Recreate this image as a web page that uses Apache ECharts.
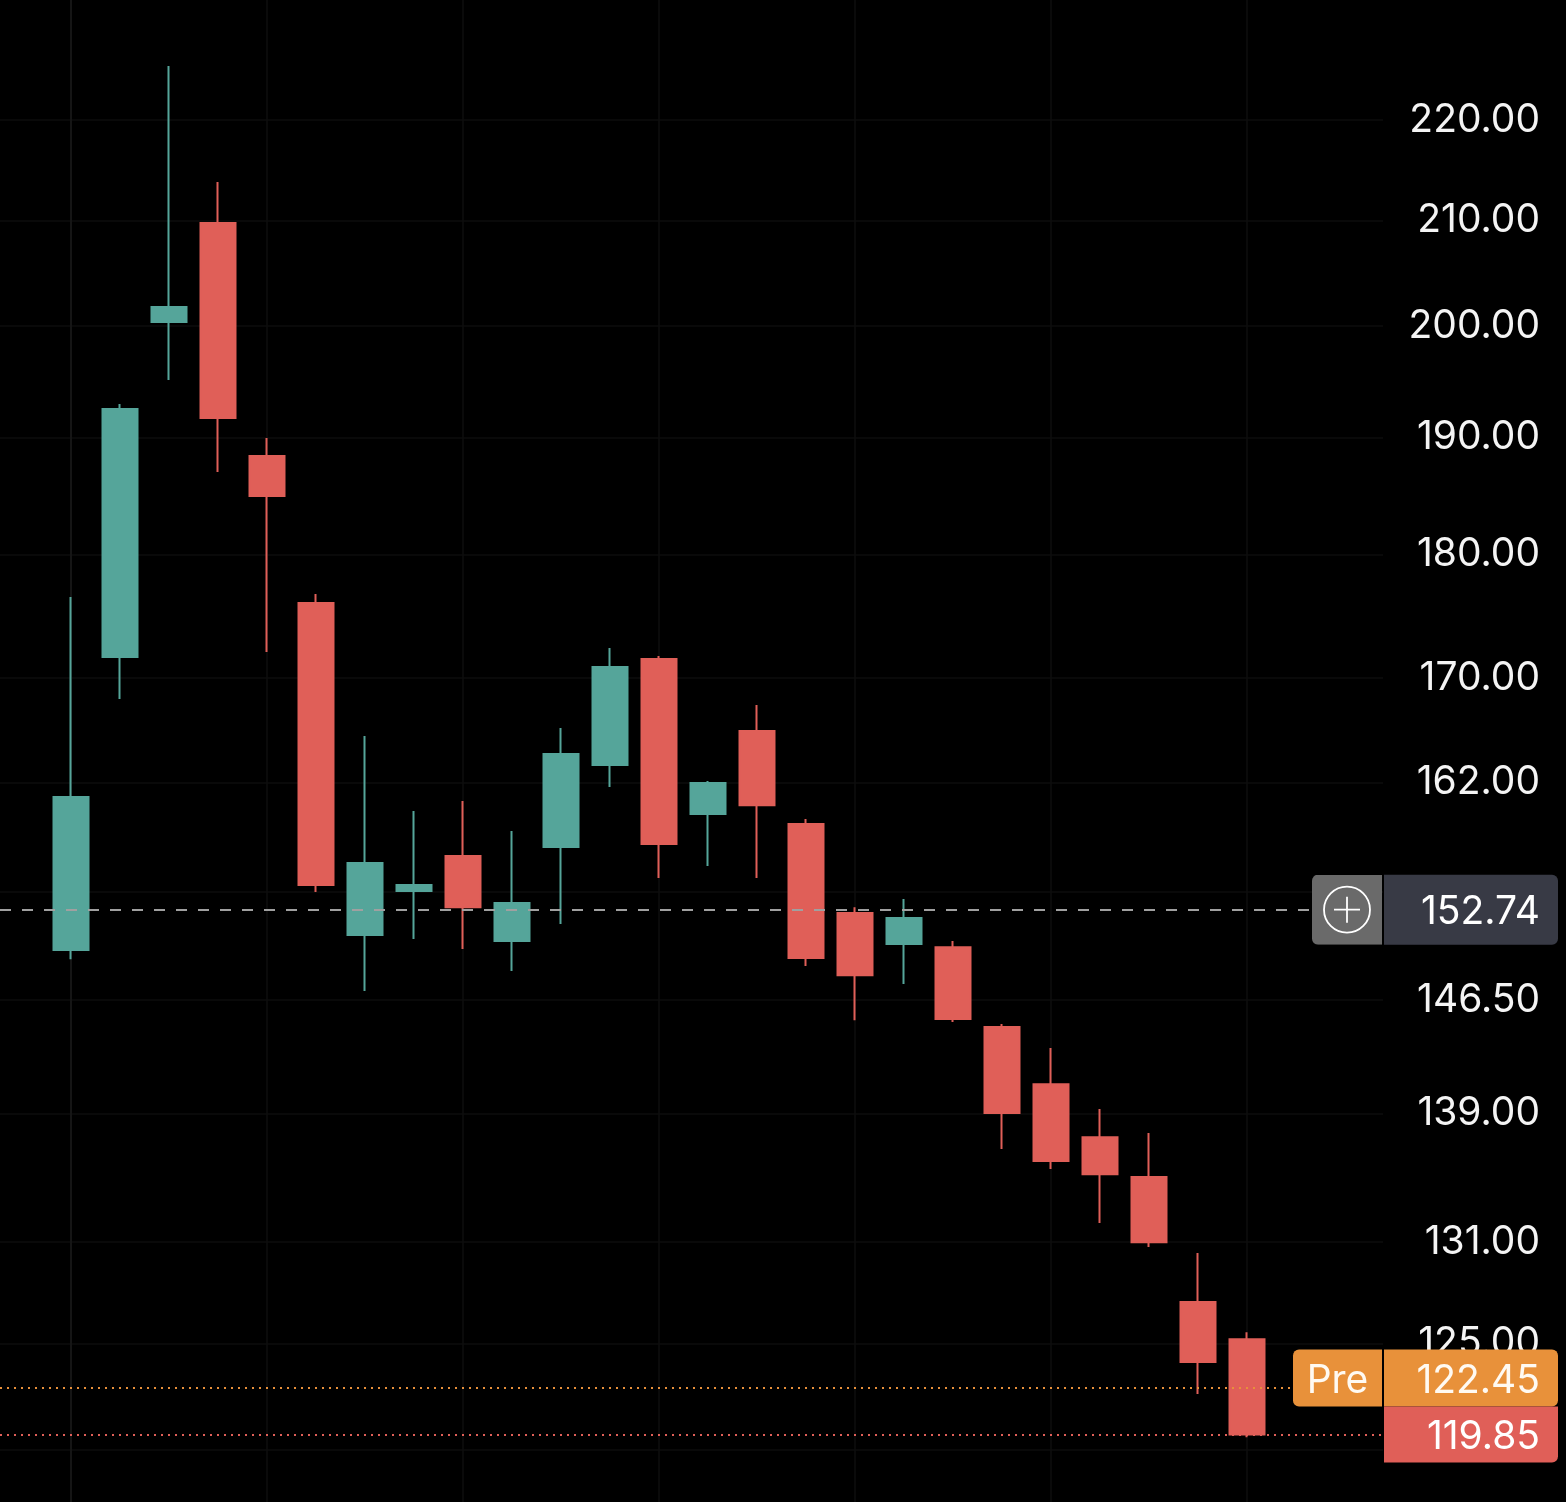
<!DOCTYPE html>
<html>
<head>
<meta charset="utf-8">
<script src="https://cdn.jsdelivr.net/npm/echarts@6/dist/echarts.min.js"></script>
<style>
html,body{margin:0;padding:0;background:#000;}
#chart{width:1566px;height:1502px;}
</style>
</head>
<body>
<div id="chart"></div>
<script>
// ---- data ----
const candleIndex = [0,1,2,3,4,5,6,7,8,9,10,11,12,13,14,15,16,17,18,19,20,21,22,23,24];
const openValues  = [149.92,171.65,200.39,209.77,188.36,175.99,150.96,154.06,156.57,150.54,157.23,163.30,171.49,159.64,165.88,158.90,152.50,150.33,150.12,144.68,140.91,137.50,134.99,127.41,125.25];
const closeValues = [160.90,192.50,201.79,191.70,184.91,154.49,156.07,154.49,152.92,153.21,164.13,170.86,157.44,161.94,160.30,149.36,148.19,152.15,145.21,139.04,135.99,135.17,130.99,123.93,119.85];
const lowValues   = [149.29,168.35,195.09,186.97,172.05,153.99,147.10,150.68,149.99,148.47,151.73,161.64,154.99,155.85,154.99,148.81,145.14,147.58,145.01,136.75,135.49,132.15,130.69,122.11,119.70];
const highValues  = [176.48,192.94,225.56,213.79,189.93,176.72,165.50,159.86,160.60,158.39,166.11,172.37,171.73,162.09,167.89,159.27,152.92,153.49,150.54,144.88,143.28,139.30,137.76,130.33,125.65];
const yTickValues = [220,210,200,190,180,170,162,154,146.5,139,131,125,119];
const gridLineIndices = [0,4,8,12,16,20,24];
const currentPrice = 152.74;
const prePrice = 122.45;
const lastPrice = 119.85;
const preLabel = 'Pre';

// ---- styling ----
const UP = '#55a59a';
const DOWN = '#e05f58';
const FONT = 'Inter';
const FS = 39;

const plusSvg = "<svg xmlns='http://www.w3.org/2000/svg' width='70' height='70'>" +
  "<path d='M6 0H70V70H6A6 6 0 0 1 0 64V6A6 6 0 0 1 6 0Z' fill='#6a6a6a'/>" +
  "<circle cx='35' cy='35' r='23' fill='none' stroke='#ffffff' stroke-width='1.8'/>" +
  "<path d='M22 35H48M35 22V48' stroke='#ffffff' stroke-width='1.8'/></svg>";
const plusImg = 'data:image/svg+xml;charset=utf-8,' + encodeURIComponent(plusSvg);

const candleData = candleIndex.map((x, i) => [x, openValues[i], closeValues[i], lowValues[i], highValues[i]]);

const chart = echarts.init(document.getElementById('chart'), null, {renderer: 'canvas'});
chart.setOption({
  backgroundColor: '#000000',
  animation: false,
  grid: {left: 0, right: 183, top: 0, bottom: 0, containLabel: false, outerBoundsMode: 'none'},
  xAxis: {
    type: 'value',
    min: -71 / 49,
    max: 1312 / 49,
    axisLine: {show: false},
    axisTick: {show: false, customValues: gridLineIndices},
    axisLabel: {show: false, customValues: gridLineIndices},
    splitLine: {show: true, lineStyle: {color: '#0e0e0e', width: 1.5}}
  },
  yAxis: {
    type: 'log',
    logBase: 10,
    position: 'right',
    min: 116.17,
    max: 232.54,
    axisLine: {show: true, lineStyle: {color: '#151515', width: 2}},
    axisTick: {show: false, customValues: yTickValues},
    axisLabel: {
      customValues: yTickValues,
      formatter: v => Number(v).toFixed(2),
      align: 'right',
      margin: 157,
      padding: [6, 0, 0, 0],
      color: '#f4f4f4',
      fontSize: FS,
      fontFamily: FONT
    },
    splitLine: {show: true, lineStyle: {color: '#0c0c0c', width: 1.5}}
  },
  series: [{
    type: 'candlestick',
    data: candleData,
    encode: {x: 0, y: [1, 2, 3, 4]},
    barWidth: 36,
    itemStyle: {color: UP, color0: DOWN, borderColor: UP, borderColor0: DOWN, borderWidth: 2},
    markLine: {
      silent: true,
      symbol: ['none', 'none'],
      animation: false,
      data: [
        {
          yAxis: currentPrice,
          lineStyle: {color: '#a0a0a0', type: [11, 11], width: 2},
          label: {
            show: true, position: 'end', distance: -71,
            formatter: '{plus| }{g| }{val|' + currentPrice.toFixed(2) + '}',
            rich: {
              plus: {backgroundColor: {image: plusImg}, width: 70, height: 70},
              g: {width: 2, height: 70},
              val: {backgroundColor: '#383a45', borderRadius: [0, 6, 6, 0], width: 156, height: 64,
                    padding: [6, 18, 0, 0], align: 'right', color: '#ffffff', fontSize: FS, fontFamily: FONT}
            }
          }
        },
        {
          yAxis: prePrice,
          lineStyle: {color: '#e8903a', type: [2, 5], width: 2},
          label: {
            show: true, position: 'end', distance: -90,
            padding: [0, 0, 20, 0],
            formatter: '{pre|' + preLabel + '}{g| }{val|' + prePrice.toFixed(2) + '}',
            rich: {
              pre: {backgroundColor: '#e8913a', borderRadius: [6, 0, 0, 6], width: 89, height: 51,
                    padding: [6, 0, 0, 0], align: 'center', color: '#fffaf2', fontSize: FS, fontFamily: FONT},
              g: {width: 2, height: 57},
              val: {backgroundColor: '#e8913a', borderRadius: [0, 6, 6, 0], width: 156, height: 51,
                    padding: [6, 18, 0, 0], align: 'right', color: '#fffaf2', fontSize: FS, fontFamily: FONT}
            }
          }
        },
        {
          yAxis: lastPrice,
          lineStyle: {color: DOWN, type: [2, 5], width: 2},
          label: {
            show: true, position: 'end', distance: 1,
            formatter: '{val|' + lastPrice.toFixed(2) + '}',
            rich: {
              val: {backgroundColor: DOWN, borderRadius: [0, 0, 6, 0], width: 156, height: 50,
                    padding: [6, 18, 0, 0], align: 'right', color: '#ffffff', fontSize: FS, fontFamily: FONT}
            }
          }
        }
      ]
    }
  }]
});
</script>
</body>
</html>
